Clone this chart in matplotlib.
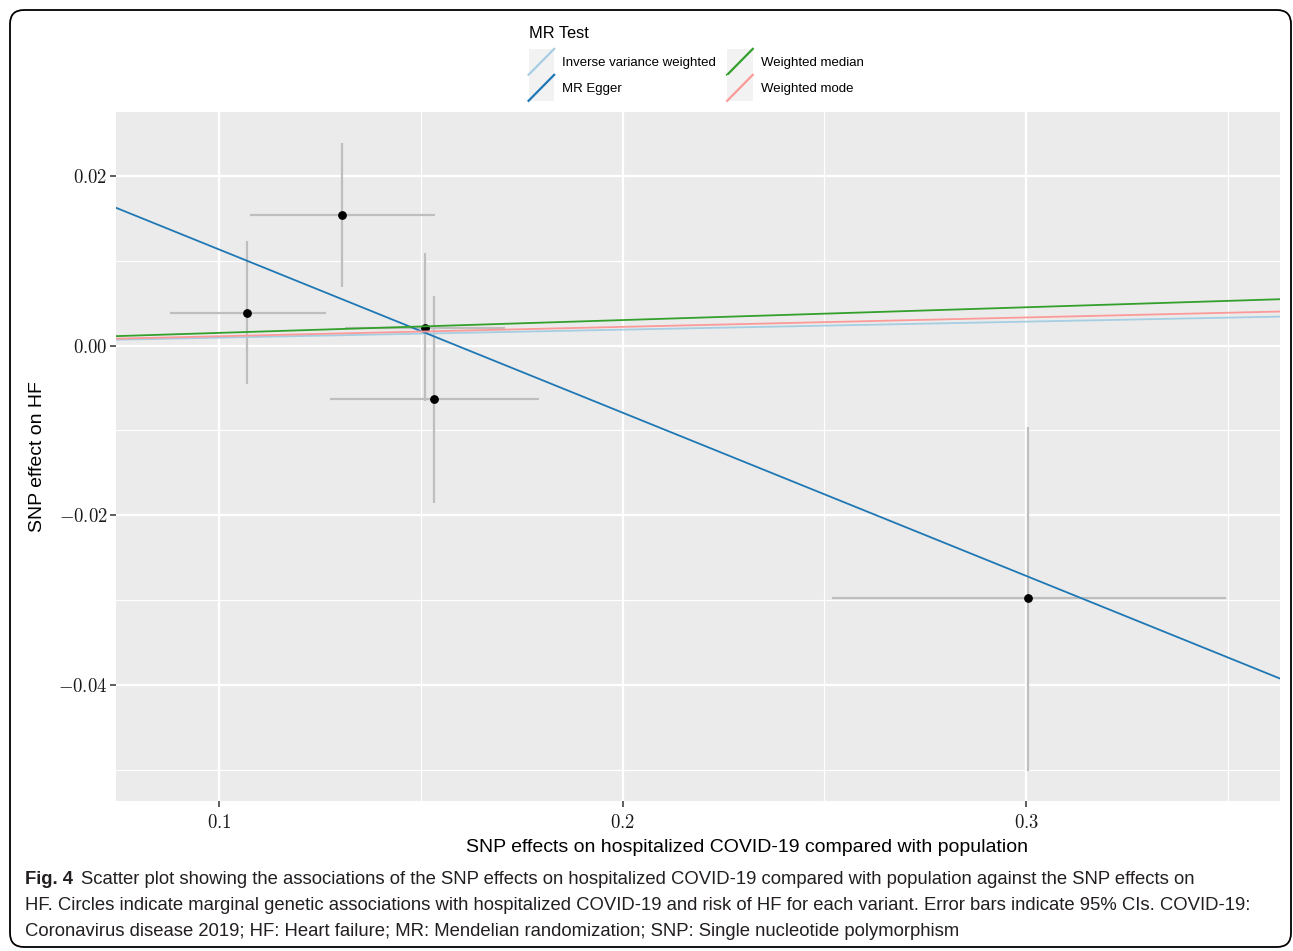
import numpy as np
import matplotlib
matplotlib.use("Agg")
import matplotlib.pyplot as plt
from matplotlib.patches import Rectangle, FancyBboxPatch
from matplotlib.lines import Line2D
from matplotlib.legend_handler import HandlerBase
from matplotlib.ticker import FixedLocator, FuncFormatter

plt.rcParams['font.family'] = ['Liberation Sans', 'DejaVu Sans']
plt.rcParams['mathtext.fontset'] = 'cm'

# SNP estimates (exposure = hospitalized COVID-19, outcome = HF)
snp_x = [0.1069, 0.1305, 0.1511, 0.1533, 0.3005]
snp_y = [0.0039, 0.0154, 0.0021, -0.0063, -0.0298]
x_lo = [0.0879, 0.1077, 0.1312, 0.1275, 0.2519]
x_hi = [0.1265, 0.1535, 0.1709, 0.1793, 0.3496]
y_lo = [-0.0045, 0.0069, -0.0065, -0.0186, -0.0502]
y_hi = [0.0123, 0.0239, 0.0109, 0.0059, -0.0096]

# MR method fits: name, intercept, slope
methods = ["Inverse variance weighted", "MR Egger", "Weighted median", "Weighted mode"]
intercepts = [0.0, 0.0306, 0.0, 0.0]
slopes = [0.00945, -0.1925, 0.0151, 0.0111]
colors = ["#A6CEE3", "#1F78B4", "#33A02C", "#FB9A99"]

xticks = [0.1, 0.2, 0.3]
yticks = [-0.04, -0.02, 0.0, 0.02]

fig = plt.figure(figsize=(12.93, 9.51), dpi=100)
ax = fig.add_axes([116/1293, 1-801/951, (1280-116)/1293, (801-112)/951])

ax.set_facecolor("#EBEBEB")
for s in ax.spines.values():
    s.set_visible(False)

ax.set_xlim(0.07447, 0.3629)
ax.set_ylim(-0.0537, 0.02756)
ax.xaxis.set_major_locator(FixedLocator(xticks))
ax.yaxis.set_major_locator(FixedLocator(yticks))
ax.xaxis.set_minor_locator(FixedLocator([0.15, 0.25, 0.35]))
ax.yaxis.set_minor_locator(FixedLocator([-0.05, -0.03, -0.01, 0.01]))
ax.xaxis.set_major_formatter(FuncFormatter(lambda v, p: "$%.1f$" % round(v, 1)))
ax.yaxis.set_major_formatter(FuncFormatter(lambda v, p: "$%.2f$" % (0.0 if abs(v) < 1e-9 else v)))
ax.grid(which="major", color="white", lw=1.6)
ax.grid(which="minor", color="white", lw=0.8)
ax.set_axisbelow(True)
ax.tick_params(which="major", length=4, width=1.1, color="#333333", labelsize=13.5, labelcolor="#1a1a1a", pad=5)
ax.tick_params(axis="y", pad=2)
ax.tick_params(which="minor", length=0)

# error bars then points
ax.hlines(snp_y, x_lo, x_hi, color="#BEBEBE", lw=1.6, zorder=2)
ax.vlines(snp_x, y_lo, y_hi, color="#BEBEBE", lw=1.6, zorder=2)
ax.scatter(snp_x, snp_y, s=28, color="black", zorder=3)

handles = []
for name, a, b, c in zip(methods, intercepts, slopes, colors):
    ax.axline((0, a), slope=b, color=c, lw=1.3, zorder=4)
    handles.append(Line2D([], [], color=c, lw=1.6, label=name))


class DiagHandler(HandlerBase):
    def create_artists(self, legend, orig_handle, xdescent, ydescent, width, height, fontsize, trans):
        bg = Rectangle((-xdescent, -ydescent), width, height, facecolor="#F2F2F2",
                       edgecolor="none", transform=trans)
        ln = Line2D([-xdescent, -xdescent + width], [-ydescent, -ydescent + height],
                    color=orig_handle.get_color(), lw=1.6, transform=trans)
        return [bg, ln]


leg = fig.legend(handles=handles, ncol=2, loc="upper left",
                 bbox_to_anchor=(518/1293, 1 - 15/951), frameon=False,
                 title="MR Test", title_fontsize=11.8, fontsize=9.5,
                 alignment="left", handlelength=1.94, handleheight=2.65,
                 labelspacing=0.0, handletextpad=0.6, columnspacing=0.85,
                 borderpad=0.3, handler_map={Line2D: DiagHandler()})
leg._legend_box.sep = 6

ax.set_ylabel("SNP effect on HF", fontsize=14, labelpad=9)
fig.text(747/1293, 1 - 848/951, "SNP effects on hospitalized COVID-19 compared with population",
         fontsize=14, ha="center", va="center")

# caption
cap_lines = [
    "Scatter plot showing the associations of the SNP effects on hospitalized COVID-19 compared with population against the SNP effects on",
    "HF. Circles indicate marginal genetic associations with hospitalized COVID-19 and risk of HF for each variant. Error bars indicate 95% CIs. COVID-19:",
    "Coronavirus disease 2019; HF: Heart failure; MR: Mendelian randomization; SNP: Single nucleotide polymorphism",
]
cap_y = [880, 905, 932]
r = fig.canvas.get_renderer()
probe = fig.text(0, 0, cap_lines[1], fontsize=14)
cap_size = 14 * (1258 - 25) / probe.get_window_extent(r).width
probe.remove()

t0 = fig.text(25/1293, 1 - cap_y[0]/951, "Fig. 4", fontsize=cap_size, fontweight="bold",
              color="#231F20", va="center")
w = t0.get_window_extent(r).width
fig.text((25 + w + 8)/1293, 1 - cap_y[0]/951, cap_lines[0], fontsize=cap_size,
         color="#231F20", va="center")
for line, yy in zip(cap_lines[1:], cap_y[1:]):
    fig.text(25/1293, 1 - yy/951, line, fontsize=cap_size, color="#231F20", va="center")

border = FancyBboxPatch((10, 951 - 947), 1281, 937, boxstyle="round,pad=0,rounding_size=14",
                        transform=None, facecolor="none", edgecolor="black", lw=1.3)
fig.patches.append(border)

fig.savefig("out.png", dpi=100)
